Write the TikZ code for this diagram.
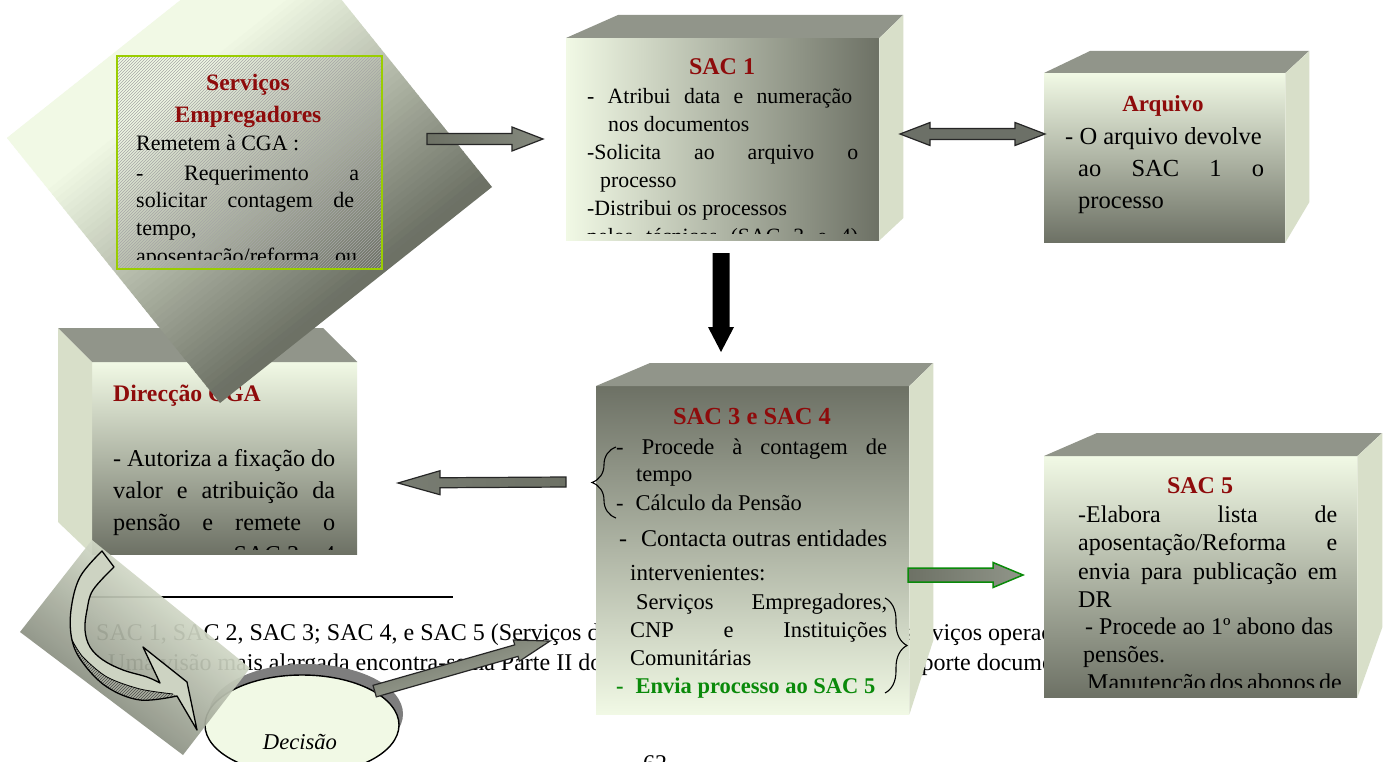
\documentclass[tikz,border=0pt]{standalone}
\usepackage{fontspec}
\setmainfont{Liberation Serif}
\usetikzlibrary{calc,patterns,decorations.pathreplacing,shapes.geometric}
\definecolor{lite}{HTML}{F1F9E5}
\definecolor{drk}{HTML}{6D7165}
\definecolor{topc}{HTML}{91958A}
\definecolor{sidec}{HTML}{D8DFC9}
\definecolor{ttl}{HTML}{8E0B0B}
\definecolor{grn}{HTML}{0A8A0A}
\definecolor{ygrn}{HTML}{9ACD00}
\definecolor{curvc}{HTML}{CDD3C2}
\definecolor{hatchc}{HTML}{A9AD9F}
\definecolor{shdc}{HTML}{7E7E7E}
\newcommand\myfs[2]{\fontsize{#1}{#2}\selectfont}
\newcommand\blockarrow[6]{%
  \coordinate (bah) at ($(#3)!#6!(#2)$);
  \path[#1] ($(#2)!#4!90:(#3)$) -- ($(bah)!#4!90:(#3)$) -- ($(bah)!#5!90:(#3)$) -- (#3)
     -- ($(bah)!#5!-90:(#3)$) -- ($(bah)!#4!-90:(#3)$) -- ($(#2)!#4!-90:(#3)$) -- cycle;}
\begin{document}
\begin{tikzpicture}[x=1pt,y=-1pt,
  txt/.style={anchor=base west,inner sep=0pt,font=\myfs{22}{28}},
  ttlnode/.style={anchor=base,inner sep=0pt,font=\myfs{24}{28}\bfseries,text=ttl},
  face/.style={inner sep=0pt,anchor=north west,draw=none},
  barrow/.style={draw=black!85,line width=1.2pt,line join=miter},
  bracestyle/.style={line width=1.1pt,decorate}]
\useasboundingbox (0,0) rectangle (1388,762);
\fill[white] (0,0) rectangle (1388,762);

% ---------- footnote
\coordinate (fnA) at (90,597); \coordinate (fnB) at (453,597);
\draw[line width=2pt] (fnA) -- (fnB);
\node[txt,font=\myfs{24}{30}] (fn1) at (96,640) {SAC 1, SAC 2, SAC 3; SAC 4, e SAC 5 (Serviços de Atendimento ao Cliente), são serviços operacionais};
\node[txt,font=\myfs{24}{30}] (fn2) at (108,670) {Uma visão mais alargada encontra-se na Parte II do presente trabalho e respectivo suporte documental.};
\node[inner sep=0pt,anchor=north,font=\myfs{24}{28}] (pg) at (655,755) {62};

% ---------- Direcção CGA box
\node[face,top color=lite,bottom color=drk,minimum width=265pt,minimum height=192pt] (dir) at (92,362) {};
\fill[topc] (dir.north west) -- ++(-34,-34) -- ++(265,0) -- (dir.north east) -- cycle;
\fill[sidec] (dir.north west) -- ++(-34,-34) -- ++(0,194) -- (dir.south west) -- cycle;
\node[ttlnode,anchor=base west,font=\myfs{23.7}{28}\bfseries] (dirT) at (113,401) {Direcção CGA};
\begin{scope}
\clip (92,362) rectangle (357,549);
\node[txt,font=\myfs{24.2}{32}] (dir1) at (113,466) {\makebox[222pt][s]{- Autoriza a fixação do}};
\node[txt,font=\myfs{24.2}{32}] (dir2) at (113,498) {\makebox[222pt][s]{valor e atribuição da}};
\node[txt,font=\myfs{24.2}{32}] (dir3) at (113,530) {\makebox[222pt][s]{pensão e remete o}};
\node[txt,font=\myfs{24.2}{32}] (dir4) at (113,562) {\makebox[222pt][s]{processo ao SAC 3 e 4}};
\end{scope}

% ---------- SAC 1 box
\node[face,left color=lite,right color=drk,minimum width=313pt,minimum height=202pt] (sac1) at (566,38) {};
\fill[topc] (sac1.north west) -- ++(52,-23) -- ++(285,0) -- (sac1.north east) -- cycle;
\fill[sidec] (sac1.north east) -- ++(24,-23) -- ++(0,203) -- (sac1.south east) -- cycle;
\node[ttlnode] (s1T) at (722,75) {SAC 1};
\begin{scope}
\clip (566,38) rectangle (879,233);
\node[txt,font=\myfs{21.8}{28}] (s11) at (587,104) {\makebox[265pt][s]{- Atribui data e numeração}};
\node[txt,font=\myfs{21.8}{28}] (s12) at (608,132) {nos documentos};
\node[txt,font=\myfs{21.8}{28}] (s13) at (587,160) {\makebox[271pt][s]{-Solicita ao arquivo o}};
\node[txt,font=\myfs{21.8}{28}] (s14) at (600,187) {processo};
\node[txt,font=\myfs{21.8}{28}] (s15) at (587,215) {-Distribui os processos};
\node[txt,font=\myfs{21.8}{28}] (s16) at (587,243) {\makebox[271pt][s]{pelos técnicos (SAC 3 e 4)}};
\end{scope}

% ---------- Arquivo box
\node[face,top color=lite,bottom color=drk,minimum width=241pt,minimum height=169pt] (arq) at (1044,73) {};
\fill[topc] (arq.north west) -- ++(46,-22) -- ++(219,0) -- (arq.north east) -- cycle;
\fill[sidec] (arq.north east) -- ++(24,-22) -- ++(0,151) -- (arq.south east) -- cycle;
\node[ttlnode,font=\myfs{23}{28}\bfseries] (arT) at (1163,112) {Arquivo};
\node[txt,font=\myfs{24.5}{32}] (ar1) at (1065,145) {- O arquivo devolve};
\node[txt,font=\myfs{24.5}{32}] (ar2) at (1078,176.5) {\makebox[186pt][s]{ao SAC 1 o}};
\node[txt,font=\myfs{24.5}{32}] (ar3) at (1078,208) {processo};

% ---------- SAC 3 e SAC 4 box
\node[face,top color=drk,bottom color=lite,minimum width=313pt,minimum height=328pt] (sac34) at (596,386) {};
\fill[topc] (sac34.north west) -- ++(54,-23) -- ++(283,0) -- (sac34.north east) -- cycle;
\fill[sidec] (sac34.north east) -- ++(24,-23) -- ++(0,277) -- (sac34.south east) -- cycle;
\node[ttlnode,font=\myfs{24.5}{28}\bfseries] (s34T) at (752,424) {SAC 3 e SAC 4};
\node[txt,font=\myfs{22.5}{28}] (s341) at (616,454) {\makebox[271pt][s]{- Procede à contagem de}};
\node[txt,font=\myfs{22.5}{28}] (s342) at (636,481) {tempo};
\node[txt,font=\myfs{22.5}{28}] (s343) at (616,510) {-\hspace*{12pt}Cálculo da Pensão};
\node[txt,font=\myfs{24}{28}] (s344) at (619,546) {-\hspace*{14pt}\makebox[246pt][s]{Contacta outras entidades}};
\node[txt,font=\myfs{23}{28}] (s345) at (630,580) {intervenientes:};
\node[txt,font=\myfs{22.5}{28}] (s346) at (636,609) {\makebox[251pt][s]{Serviços Empregadores,}};
\node[txt,font=\myfs{22.5}{28}] (s347) at (630,637) {\makebox[257pt][s]{CNP e Instituições}};
\node[txt,font=\myfs{22.5}{28}] (s348) at (630,665) {Comunitárias};
\node[txt,font=\myfs{22.5}{28}\bfseries,text=grn] (s349) at (616,693) {-\hspace*{12pt}Envia processo ao SAC 5};
\coordinate (brLa) at (616,518); \coordinate (brLb) at (616,447);
\draw[bracestyle,decoration={brace,amplitude=24pt}] (brLa) -- (brLb);
\coordinate (brRa) at (885,598); \coordinate (brRb) at (885,693);
\draw[bracestyle,decoration={brace,amplitude=22pt}] (brRa) -- (brRb);

% ---------- SAC 5 box
\node[face,top color=lite,bottom color=drk,minimum width=313pt,minimum height=241pt] (sac5) at (1044,456) {};
\fill[topc] (sac5.north west) -- ++(53,-23) -- ++(285,0) -- (sac5.north east) -- cycle;
\fill[sidec] (sac5.north east) -- ++(25,-23) -- ++(0,194) -- (sac5.south east) -- cycle;
\node[ttlnode] (s5T) at (1200,493) {SAC 5};
\begin{scope}
\clip (1044,456) rectangle (1357,687);
\node[txt,font=\myfs{24}{28}] (s51) at (1078,522) {\makebox[259pt][s]{-Elabora lista de}};
\node[txt,font=\myfs{24}{28}] (s52) at (1078,550) {\makebox[259pt][s]{aposentação/Reforma e}};
\node[txt,font=\myfs{24}{28}] (s53) at (1078,579) {\makebox[259pt][s]{envia para publicação em}};
\node[txt,font=\myfs{24}{28}] (s54) at (1078,607) {DR};
\node[txt,font=\myfs{24}{28}] (s55) at (1085,634) {- Procede ao 1º abono das};
\node[txt,font=\myfs{24}{28}] (s56) at (1083,662) {pensões.};
\node[txt,font=\myfs{24}{28}] (s57) at (1087,690) {\makebox[248pt][s]{Manutenção dos abonos de}};
\end{scope}

% ---------- Serviços Empregadores (tilted square, gradient built from strips)
\coordinate (dL) at (7,138); \coordinate (dT) at (279,-78);
\coordinate (dR) at (492,187); \coordinate (dB) at (220,403);
\coordinate (dC) at (250,162);
\begin{scope}
\clip (dL) -- (dT) -- (dR) -- (dB) -- cycle;
\foreach \i in {0,...,69}{
  \pgfmathsetmacro\ta{-200+6*\i}
  \pgfmathsetmacro\tb{\ta+7}
  \pgfmathsetmacro\pc{max(0,min(100,(157-\ta)/2.67))}
  \fill[lite!\pc!drk] ($(dC)+({0.623*\ta+313},{0.783*\ta-249})$) -- ($(dC)+({0.623*\tb+313},{0.783*\tb-249})$)
     -- ($(dC)+({0.623*\tb-313},{0.783*\tb+249})$) -- ($(dC)+({0.623*\ta-313},{0.783*\ta+249})$) -- cycle;
}
\end{scope}
\node[face,draw=ygrn,line width=2pt,pattern=north east lines,pattern color=black!35,minimum width=265pt,minimum height=213pt] (serv) at (116,55) {};
\node[ttlnode,font=\myfs{23.5}{28}\bfseries] (svT1) at (248,91) {Serviços};
\node[ttlnode,font=\myfs{23.5}{28}\bfseries] (svT2) at (248,123) {Empregadores};
\begin{scope}
\clip (116,55) rectangle (381,259);
\node[txt] (sv1) at (136,151) {Remetem à CGA :};
\node[txt] (sv2) at (136,180) {\makebox[223pt][s]{- Requerimento a}};
\node[txt] (sv3) at (136,207) {\makebox[218pt][s]{solicitar contagem de}};
\node[txt] (sv4) at (136,235) {tempo,};
\node[txt] (sv5) at (136,263) {\makebox[221pt][s]{aposentação/reforma ou}};
\end{scope}

% ---------- Decisão
\fill[shdc] (306,714) ellipse [x radius=97pt,y radius=50pt];
\node[ellipse,draw,line width=1.4pt,fill=lite,minimum width=194pt,minimum height=100pt,inner sep=0pt] (dec) at (302,725) {};
\node[inner sep=0pt,font=\myfs{22.6}{26}\itshape] (decT) at (300,742) {Decisão};

% ---------- tilted panel bottom left
\shade[left color=lite,right color=drk,shading angle=-38,opacity=0.93] (92,540) -- (250,668) -- (183,755) -- (20,632) -- cycle;

% ---------- curved arrow
\def\curvpath{(114,567) -- plot[smooth,tension=0.6] coordinates {(114,567) (93,590) (87,610) (85,630) (90,647) (103,660) (123,670) (147,677) (160,683)} -- (143,647) -- (187,682) -- (197,730) -- (177,696) -- plot[smooth,tension=0.6] coordinates {(177,696) (140,700) (107,687) (83,663) (72,640) (71,610) (80,577) (102,551)} -- cycle}
\fill[curvc] \curvpath;
\def\hatchpath{plot[smooth] coordinates {(72,640) (83,663) (107,687) (140,700) (177,696)} -- plot[smooth] coordinates {(173,694) (140,689) (107,677) (83,657) (72,640)} -- cycle}
\fill[hatchc] \hatchpath;
\fill[pattern=north east lines,pattern color=black!70] \hatchpath;
\draw[line width=0.8pt] plot[smooth] coordinates {(173,694) (140,689) (107,677) (83,657) (72,640)};
\draw[line width=1.3pt,line join=round] \curvpath;

% ---------- block arrows
\coordinate (a1s) at (427,139); \coordinate (a1e) at (543,139);
\blockarrow{barrow,left color=drk,middle color=lite,right color=black!45!lite}{a1s}{a1e}{5.5pt}{12pt}{31pt}

\coordinate (a2s) at (900,134); \coordinate (a2e) at (1045,134);
\coordinate (h1) at ($(a2s)!30pt!(a2e)$); \coordinate (h2) at ($(a2e)!30pt!(a2s)$);
\path[barrow,left color=black!55!lite,middle color=lite,right color=black!55!lite]
  (a2s) -- ($(h1)!11.5pt!90:(a2e)$) -- ($(h1)!5.5pt!90:(a2e)$) -- ($(h2)!5.5pt!-90:(a2s)$) -- ($(h2)!11.5pt!-90:(a2s)$)
  -- (a2e) -- ($(h2)!11.5pt!90:(a2s)$) -- ($(h2)!5.5pt!90:(a2s)$) -- ($(h1)!5.5pt!-90:(a2e)$) -- ($(h1)!11.5pt!-90:(a2e)$) -- cycle;

\coordinate (a3s) at (721,253); \coordinate (a3e) at (721,352);
\blockarrow{fill=black}{a3s}{a3e}{8.5pt}{13pt}{25pt}

\coordinate (a4s) at (566,482); \coordinate (a4e) at (398,483);
\blockarrow{barrow,left color=black!50!lite,middle color=lite,right color=drk}{a4s}{a4e}{5pt}{12pt}{42pt}

\coordinate (a5s) at (908,575); \coordinate (a5e) at (1023,575);
\blockarrow{draw=grn,line width=1.5pt,left color=drk,middle color=lite,right color=black!40!lite}{a5s}{a5e}{7pt}{12.5pt}{30pt}

\coordinate (a6e) at (550,641);
\blockarrow{barrow,left color=drk,middle color=lite,right color=black!30!lite,shading angle=16}{dec.25}{a6e}{6pt}{11pt}{35pt}
\end{tikzpicture}
\end{document}
